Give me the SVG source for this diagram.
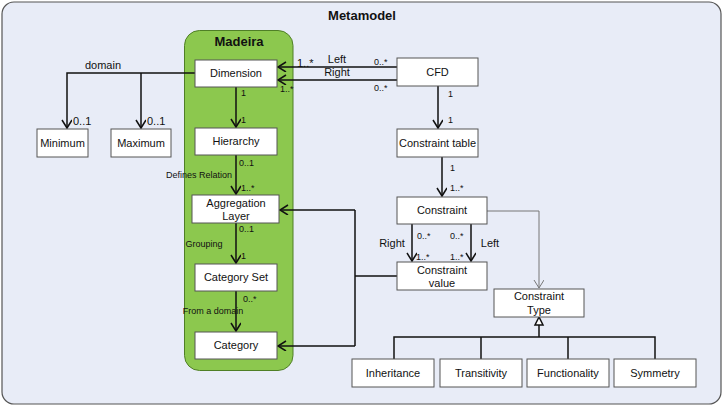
<svg xmlns="http://www.w3.org/2000/svg" width="724" height="407" viewBox="0 0 724 407">
<defs>
<style>
text{font-family:"Liberation Sans",Arial,sans-serif;fill:#111}
.box{fill:#fff;stroke:#555;stroke-width:1}
.lbl{font-size:11px;text-anchor:middle}
.sm{font-size:9px}
.md{font-size:11px}
.ln{fill:none;stroke:#111;stroke-width:1.5}
.gl{fill:none;stroke:#777;stroke-width:1}
</style>
<marker id="arr" markerWidth="12" markerHeight="12" refX="9" refY="5" orient="auto" markerUnits="userSpaceOnUse">
<path d="M1,0 L9,5 L1,10" fill="none" stroke="#111" stroke-width="1.5"/>
</marker>
<marker id="arrg" markerWidth="12" markerHeight="12" refX="9" refY="5" orient="auto" markerUnits="userSpaceOnUse">
<path d="M1,0 L9,5 L1,10" fill="none" stroke="#777" stroke-width="1"/>
</marker>
</defs>
<rect x="2" y="2" width="719" height="402" rx="12" fill="#e8ecf7" stroke="#555" stroke-width="1.2"/>
<text x="362" y="20" text-anchor="middle" font-size="13" font-weight="bold">Metamodel</text>
<g id="madeira">
<rect x="184.5" y="30.5" width="108.5" height="340" rx="15" fill="#8cc84e" stroke="#4f7f26" stroke-width="1"/>
<text x="239" y="46" text-anchor="middle" font-size="13" font-weight="bold">Madeira</text>
</g>
<g id="connectors">
<path class="ln" d="M195,73 H67 V128" marker-end="url(#arr)"/>
<path class="ln" d="M141,73 V128" marker-end="url(#arr)"/>
<path class="ln" d="M397,67 H278" marker-end="url(#arr)"/>
<path class="ln" d="M397,80 H278" marker-end="url(#arr)"/>
<path class="ln" d="M236,87 V127" marker-end="url(#arr)"/>
<path class="ln" d="M236,155 V194" marker-end="url(#arr)"/>
<path class="ln" d="M236,223 V263" marker-end="url(#arr)"/>
<path class="ln" d="M236,291 V331" marker-end="url(#arr)"/>
<path class="ln" d="M438,86 V128" marker-end="url(#arr)"/>
<path class="ln" d="M442,157 V196" marker-end="url(#arr)"/>
<path class="ln" d="M412,224 V261" marker-end="url(#arr)"/>
<path class="ln" d="M471,224 V261" marker-end="url(#arr)"/>
<path class="ln" d="M397,276 H355"/>
<path class="ln" d="M355,210 V346"/>
<path class="ln" d="M355,210 H280" marker-end="url(#arr)"/>
<path class="ln" d="M355,346 H278" marker-end="url(#arr)"/>
<path class="gl" d="M487,211 H539 V288" marker-end="url(#arrg)"/>
<path class="ln" d="M394,359 V337 H655 V359 M481,337 V359 M568,337 V359 M539,337 V325"/>
<path d="M539,317 L535,325 L543,325 Z" fill="#fff" stroke="#111" stroke-width="1.5"/>
<text class="md" x="103" y="69" text-anchor="middle">domain</text>
<text class="md" x="73" y="125">0..1</text>
<text class="md" x="147" y="125">0..1</text>
<text class="md" x="297" y="67">1..*</text>
<text class="md" x="337" y="63" text-anchor="middle">Left</text>
<text class="md" x="337" y="76" text-anchor="middle">Right</text>
<text class="sm" x="280" y="92">1..*</text>
<text class="sm" x="374" y="65">0..*</text>
<text class="sm" x="374" y="91">0..*</text>
<text class="sm" x="241" y="96">1</text>
<text class="sm" x="241" y="123">1</text>
<text class="sm" x="239" y="166">0..1</text>
<text class="sm" x="241" y="191">1..*</text>
<text class="sm" x="199" y="178" text-anchor="middle">Defines Relation</text>
<text class="sm" x="239" y="232">0..1</text>
<text class="sm" x="241" y="259">1</text>
<text class="sm" x="204" y="247" text-anchor="middle">Grouping</text>
<text class="sm" x="243" y="302">0..*</text>
<text class="sm" x="213" y="314" text-anchor="middle">From a domain</text>
<text class="sm" x="448" y="97">1</text>
<text class="sm" x="448" y="123">1</text>
<text class="sm" x="450" y="171">1</text>
<text class="sm" x="450" y="191">1..*</text>
<text class="md" x="392" y="247" text-anchor="middle">Right</text>
<text class="md" x="490" y="247" text-anchor="middle">Left</text>
<text class="sm" x="417" y="239">0..*</text>
<text class="sm" x="450" y="239">0..*</text>
<text class="sm" x="416" y="260">1..*</text>
<text class="sm" x="450" y="260">1..*</text>
</g>
<g id="dimension"><rect class="box" x="195" y="60" width="82" height="27"/><text class="lbl" x="236" y="77">Dimension</text></g>
<g id="hierarchy"><rect class="box" x="195" y="128" width="82" height="27"/><text class="lbl" x="236" y="145">Hierarchy</text></g>
<g id="aggregation-layer"><rect class="box" x="192" y="195" width="87" height="28"/><text class="lbl" x="236" y="207">Aggregation</text><text class="lbl" x="236" y="220">Layer</text></g>
<g id="category-set"><rect class="box" x="195" y="264" width="82" height="27"/><text class="lbl" x="236" y="281">Category Set</text></g>
<g id="category"><rect class="box" x="195" y="332" width="82" height="27"/><text class="lbl" x="236" y="349">Category</text></g>
<g id="minimum"><rect class="box" x="37" y="129" width="51" height="28"/><text class="lbl" x="62.5" y="147">Minimum</text></g>
<g id="maximum"><rect class="box" x="111" y="129" width="60" height="28"/><text class="lbl" x="141" y="147">Maximum</text></g>
<g id="cfd"><rect class="box" x="397" y="58" width="81" height="28"/><text class="lbl" x="437.5" y="76">CFD</text></g>
<g id="constraint-table"><rect class="box" x="397" y="129" width="81" height="28"/><text class="lbl" x="437.5" y="147">Constraint table</text></g>
<g id="constraint"><rect class="box" x="397" y="197" width="90" height="27"/><text class="lbl" x="442" y="214">Constraint</text></g>
<g id="constraint-value"><rect class="box" x="397" y="262" width="90" height="28"/><text class="lbl" x="442" y="274">Constraint</text><text class="lbl" x="442" y="287">value</text></g>
<g id="constraint-type"><rect class="box" x="494" y="289" width="90" height="28"/><text class="lbl" x="539" y="300">Constraint</text><text class="lbl" x="539" y="314">Type</text></g>
<g id="inheritance"><rect class="box" x="352" y="359" width="82" height="28"/><text class="lbl" x="393" y="377">Inheritance</text></g>
<g id="transitivity"><rect class="box" x="440" y="359" width="82" height="28"/><text class="lbl" x="481" y="377">Transitivity</text></g>
<g id="functionality"><rect class="box" x="527" y="359" width="82" height="28"/><text class="lbl" x="568" y="377">Functionality</text></g>
<g id="symmetry"><rect class="box" x="614" y="359" width="82" height="28"/><text class="lbl" x="655" y="377">Symmetry</text></g>
</svg>
